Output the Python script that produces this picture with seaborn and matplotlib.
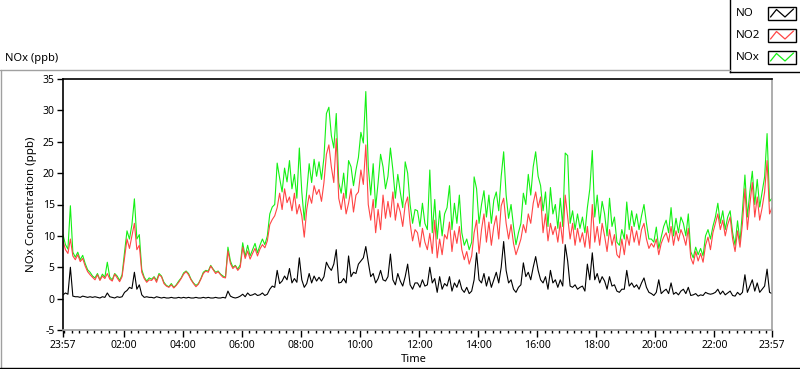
import numpy as np
import pandas as pd
import matplotlib
matplotlib.use("Agg")
import matplotlib.pyplot as plt
import seaborn as sns
from matplotlib.lines import Line2D
from matplotlib.patches import Rectangle

# ---------------- data (5-minute samples starting 23:57) ----------------
start_clock = "23:57"
step_min = 5

no2 = [
    9.2, 7.8, 7.2, 9.5, 6.8, 6.2, 7.0, 5.9, 6.4, 5.2, 4.3, 3.8,
    3.4, 3.0, 3.8, 2.9, 3.6, 3.2, 4.0, 3.1, 2.8, 3.9, 3.3, 2.7,
    3.5, 6.5, 9.5, 8.0, 10.0, 12.0, 7.8, 8.5, 4.2, 3.2, 2.6, 3.0,
    2.9, 3.4, 2.6, 3.8, 3.5, 2.4, 2.0, 1.8, 2.2, 1.7, 2.1, 2.6,
    3.2, 3.9, 4.3, 3.8, 3.0, 2.4, 1.9, 2.3, 3.1, 4.0, 4.4, 4.2,
    5.2, 4.6, 4.0, 4.3, 3.8, 3.4, 3.3, 7.6, 5.6, 4.8, 5.2, 4.5,
    5.0, 8.2, 6.4, 7.6, 6.3, 7.2, 8.0, 6.8, 7.9, 8.6, 8.1, 9.2,
    11.8, 12.6, 13.2, 14.5, 16.8, 14.2, 17.5, 15.3, 16.2, 14.0, 16.8, 13.5,
    15.0, 13.2, 9.8, 14.2, 16.5, 15.2, 18.0, 16.6, 17.4, 15.5, 18.5, 23.0,
    24.5, 21.0, 18.5, 25.5, 16.0, 14.2, 16.8, 13.5, 15.2, 17.5, 13.8, 16.5,
    17.0, 20.5, 18.2, 24.5, 15.0, 12.5, 15.8, 10.5, 14.2, 11.0, 16.5, 12.8,
    15.5, 13.0, 17.0, 12.5, 15.2, 13.8, 11.5, 15.0, 16.2, 12.0, 9.2, 11.0,
    10.5, 8.2, 11.2, 9.0, 7.8, 10.4, 7.2, 12.5, 6.5, 9.5, 7.0, 10.2,
    9.5, 12.2, 7.5, 10.8, 8.8, 11.5, 7.8, 6.2, 7.5, 5.5, 6.8, 10.5,
    12.5, 7.2, 11.0, 13.5, 9.0, 12.2, 8.5, 11.5, 13.2, 9.5, 14.8, 16.0,
    12.0, 9.5, 11.8, 8.8, 7.0, 8.2, 9.5, 11.8, 10.5, 13.5, 12.0, 15.2,
    17.0, 14.5, 16.2, 10.5, 13.5, 9.2, 12.0, 10.2, 11.5, 9.0, 12.2, 8.8,
    16.5, 13.0, 9.5, 12.0, 8.5, 11.2, 9.0, 10.5, 8.2, 11.5, 8.0, 15.0,
    9.0, 11.5, 8.5, 12.0, 10.0, 7.5, 11.0, 8.5, 10.2, 7.0, 6.5, 9.5,
    7.0, 10.2, 8.5, 11.5, 9.0, 10.8, 8.5, 11.0, 12.0, 9.5, 8.0, 8.8,
    8.2, 9.5, 7.0, 8.8, 9.8, 10.5, 9.0, 11.5, 8.5, 10.8, 9.2, 11.0,
    10.0, 8.5, 11.2, 6.5, 5.5, 7.5, 6.0, 7.2, 5.8, 8.5, 9.8, 7.8,
    10.5, 12.0, 13.5, 11.0, 12.5, 10.0, 11.8, 13.0, 9.5, 7.5, 10.8, 8.2,
    12.0, 17.5, 11.0, 15.0, 18.5, 13.0, 16.2, 12.5, 14.5, 17.0, 22.0, 13.5, 14.5,
]

nox = [
    10.2, 8.6, 7.9, 14.8, 7.4, 6.6, 7.4, 6.2, 6.9, 5.6, 4.6, 4.2,
    3.6, 3.3, 4.0, 3.0, 3.9, 3.4, 5.8, 3.4, 3.0, 4.0, 3.6, 2.9,
    3.8, 7.4, 10.8, 9.5, 11.8, 15.9, 9.5, 10.2, 4.6, 3.4, 2.8, 3.3,
    3.1, 3.5, 2.9, 4.0, 3.6, 2.6, 2.1, 1.9, 2.4, 1.8, 2.2, 2.8,
    3.3, 4.1, 4.4, 4.0, 3.1, 2.5, 2.1, 2.4, 3.2, 4.2, 4.5, 4.4,
    5.3, 4.7, 4.2, 4.4, 3.9, 3.6, 3.4, 8.2, 6.0, 5.0, 5.3, 4.7,
    5.4, 8.9, 6.7, 8.5, 6.8, 7.8, 8.8, 7.3, 8.5, 9.5, 8.6, 10.0,
    13.5, 14.6, 15.0, 21.6, 19.2, 17.0, 20.8, 18.6, 22.0, 17.5, 19.8, 16.0,
    24.0, 17.0, 12.5, 17.0, 21.5, 18.5, 22.2, 19.5, 21.8, 19.0, 22.5, 29.5,
    30.5, 26.0, 24.0, 29.5, 18.5, 16.8, 20.0, 16.0, 22.0, 21.0, 18.0, 20.5,
    22.5, 26.5, 24.8, 33.0, 21.0, 16.5, 21.5, 14.5, 18.5, 23.0, 21.0, 17.5,
    19.5, 24.0, 20.5, 16.0, 19.8, 17.0, 14.5, 21.8, 20.0, 15.0, 12.0, 14.2,
    14.0, 11.5, 15.2, 12.0, 11.0, 20.5, 10.5, 15.8, 9.5, 14.0, 10.0, 13.5,
    14.5, 18.0, 11.0, 15.2, 12.0, 16.5, 10.5, 8.5, 9.5, 7.8, 9.0, 19.4,
    17.5, 12.0, 15.0, 17.2, 13.0, 16.5, 12.0, 15.7, 17.0, 14.0, 19.5, 23.4,
    16.5, 12.8, 15.0, 11.5, 8.6, 10.5, 12.0, 16.8, 15.0, 19.8, 16.5, 21.0,
    23.4, 19.5, 18.0, 14.0, 17.0, 11.5, 17.7, 13.5, 15.0, 11.2, 16.0, 11.5,
    23.2, 22.8, 12.0, 14.0, 11.0, 13.5, 11.2, 13.0, 10.5, 14.5, 17.5, 23.6,
    13.0, 16.5, 12.0, 15.5, 13.5, 10.0, 16.0, 11.5, 13.0, 9.0, 8.5, 11.0,
    9.5, 15.4, 11.0, 14.0, 11.5, 13.5, 11.0, 13.2, 15.0, 12.0, 9.5, 9.5,
    9.0, 11.4, 8.0, 9.8, 11.5, 12.5, 10.5, 14.5, 10.0, 12.8, 10.5, 13.0,
    12.0, 10.0, 13.5, 7.5, 6.5, 8.2, 7.0, 8.0, 6.8, 10.0, 11.0, 9.5,
    11.5, 13.0, 15.2, 12.0, 14.0, 11.0, 13.0, 14.0, 10.5, 8.5, 12.4, 9.0,
    14.0, 19.7, 13.0, 17.0, 20.3, 15.0, 19.0, 14.6, 17.0, 19.4, 26.3, 15.5, 16.0,
]

no = [
    0.6, 0.9, 0.7, 5.0, 0.4, 0.3, 0.3, 0.2, 0.4, 0.3, 0.2, 0.3,
    0.2, 0.3, 0.2, 0.1, 0.3, 0.2, 0.9, 0.3, 0.2, 0.1, 0.3, 0.2,
    0.3, 1.0, 1.3, 1.8, 1.6, 4.2, 1.5, 2.2, 0.6, 0.2, 0.3, 0.2,
    0.2, 0.1, 0.3, 0.2, 0.1, 0.2, 0.1, 0.1, 0.2, 0.1, 0.1, 0.2,
    0.1, 0.2, 0.1, 0.2, 0.1, 0.1, 0.2, 0.1, 0.1, 0.2, 0.1, 0.2,
    0.1, 0.1, 0.2, 0.1, 0.1, 0.2, 0.1, 1.2, 0.4, 0.2, 0.1, 0.2,
    0.4, 0.7, 0.3, 0.9, 0.5, 0.6, 0.8, 0.5, 0.6, 0.9, 0.5, 0.7,
    1.5, 2.0, 1.8, 4.5, 2.4, 2.8, 3.6, 3.0, 4.8, 2.5, 3.2, 2.6,
    6.5, 3.0, 1.8, 2.4, 4.0, 2.5, 3.6, 2.8, 3.4, 2.8, 3.5, 5.8,
    5.0, 4.5, 5.5, 7.8, 2.5, 2.6, 3.2, 2.5, 6.8, 3.5, 4.2, 4.0,
    5.5, 6.0, 6.5, 8.3, 5.8, 3.5, 4.0, 2.5, 3.2, 4.5, 3.0, 2.8,
    3.5, 7.1, 3.0, 2.2, 4.0, 2.8, 2.0, 3.5, 5.5, 2.2, 1.5, 2.5,
    2.5, 1.8, 3.0, 2.0, 2.2, 5.0, 2.5, 3.2, 1.0, 3.5, 1.5, 2.4,
    2.0, 3.5, 1.2, 2.5, 1.8, 3.0, 1.5, 1.0, 1.8, 0.8, 1.2, 3.0,
    7.3, 3.0, 2.5, 4.0, 2.0, 3.5, 1.8, 3.0, 4.2, 2.5, 5.0, 9.1,
    4.5, 2.5, 3.0, 1.5, 1.0, 1.8, 2.2, 5.7, 3.5, 4.2, 3.0, 5.0,
    6.7, 4.5, 3.0, 2.5, 3.5, 1.5, 4.5, 2.5, 3.0, 1.8, 3.0, 2.0,
    8.6, 6.0, 2.0, 1.8, 2.2, 1.5, 1.8, 2.0, 1.2, 5.5, 3.0, 7.3,
    3.0, 4.0, 2.5, 3.5, 2.8, 1.5, 3.5, 2.0, 2.2, 1.2, 1.0, 1.5,
    1.5, 4.5, 2.0, 2.5, 1.8, 2.2, 1.5, 2.5, 3.3, 1.8, 1.0, 0.8,
    0.5, 1.0, 3.0, 0.8, 1.2, 1.5, 0.8, 2.5, 0.7, 1.0, 0.6, 1.2,
    1.5, 0.8, 1.8, 0.5, 0.6, 0.8, 0.4, 0.6, 0.5, 1.0, 0.8, 0.7,
    0.8, 1.0, 1.5, 0.7, 1.2, 0.6, 0.9, 1.2, 0.5, 0.4, 1.0, 0.6,
    1.0, 3.8, 1.0, 2.0, 3.0, 1.2, 2.5, 1.0, 1.5, 2.0, 4.7, 1.0, 0.8,
]

series_names = ["NO", "NO2", "NOx"]
series_colors = {"NO": "#000000", "NO2": "#ff4545", "NOx": "#14f014"}
x_tick_labels = ["23:57", "02:00", "04:00", "06:00", "08:00", "10:00", "12:00",
                 "14:00", "16:00", "18:00", "20:00", "22:00", "23:57"]
y_ticks = [-5, 0, 5, 10, 15, 20, 25, 30, 35]

# ---------------- build table ----------------
minutes = np.arange(len(no2)) * step_min
df = pd.concat([
    pd.DataFrame({"t": minutes, "value": no, "series": "NO"}),
    pd.DataFrame({"t": minutes, "value": no2, "series": "NO2"}),
    pd.DataFrame({"t": minutes, "value": nox, "series": "NOx"}),
], ignore_index=True)

def clock_to_min(s):
    h, m = s.split(":")
    return int(h) * 60 + int(m)

t0 = clock_to_min(start_clock)
span = 24 * 60
major_pos = [(clock_to_min(s) - t0) % span for s in x_tick_labels]
major_pos[-1] = span
minor_pos = [(q - t0) % span for q in range(0, span, 15)]
minor_pos = [p for p in minor_pos if p not in major_pos]

# ---------------- figure ----------------
sns.set_theme(style="white")
plt.rcParams["font.family"] = ["Noto Sans", "DejaVu Sans"]

W, H = 800, 369
fig = plt.figure(figsize=(W / 100, H / 100), dpi=100)
fig.patch.set_facecolor("white")

def fx(px):
    return px / W

def fy(py):
    return 1 - py / H

L, R, T, B = 63, 772, 79, 330
ax = fig.add_axes([fx(L), fy(B), fx(R - L), (B - T) / H])
ax.set_facecolor("white")

sns.lineplot(data=df, x="t", y="value", hue="series",
             hue_order=["NOx", "NO2", "NO"], palette=series_colors,
             legend=False, ax=ax, linewidth=0.8,
             estimator=None, sort=False)

ax.set_xlim(0, span)
ax.set_ylim(-5, 35)
ax.set_xticks(major_pos)
ax.set_xticklabels(x_tick_labels)
ax.set_xticks(minor_pos, minor=True)
ax.set_yticks(y_ticks)
ax.set_yticklabels([str(v) for v in y_ticks])

ax.tick_params(axis="x", which="major", direction="out", length=5, width=1,
               color="black", pad=2, labelsize=7.5, labelcolor="black",
               bottom=True)
ax.tick_params(axis="x", which="minor", direction="out", length=2.5, width=1,
               color="black", bottom=True)
ax.tick_params(axis="y", which="major", direction="out", length=4, width=1,
               color="black", pad=2, labelsize=7.5, labelcolor="black",
               left=True)
ax.grid(False)

for side in ["top", "left"]:
    ax.spines[side].set_color("black")
    ax.spines[side].set_linewidth(1.2)
for side in ["right", "bottom"]:
    ax.spines[side].set_color("#a0a0a0")
    ax.spines[side].set_linewidth(1.2)

ax.set_xlabel("Time", fontsize=8, color="black")
ax.xaxis.set_label_coords((413.5 - L) / (R - L), -(354 - B) / (B - T))
ax.xaxis.label.set_va("top")
ax.set_ylabel("NOx Concentration (ppb)", fontsize=8.3, color="black")
ax.yaxis.set_label_coords(-(L - 37) / (R - L), 0.5)

# plot title at top-left
fig.text(fx(5), fy(58), "NOx (ppb)", fontsize=8, color="black",
         ha="left", va="center")

# outer panel frame
fig.add_artist(Line2D([fx(0), fx(730)], [fy(69.5), fy(69.5)],
                      color="#a0a0a0", lw=1))
fig.add_artist(Line2D([fx(0.5), fx(0.5)], [fy(69.5), fy(368)],
                      color="#a0a0a0", lw=1))
fig.add_artist(Line2D([fx(0), fx(800)], [fy(367.5), fy(367.5)],
                      color="black", lw=1))

# ---------------- legend box ----------------
lg = fig.add_axes([fx(730), fy(72), fx(70), 72 / H])
lg.set_xlim(0, 70)
lg.set_ylim(72, 0)
lg.set_xticks([])
lg.set_yticks([])
lg.set_facecolor("white")
for side in ["top", "right"]:
    lg.spines[side].set_visible(False)
for side in ["left", "bottom"]:
    lg.spines[side].set_color("black")
    lg.spines[side].set_linewidth(1)

rows_y = [13, 35, 57]
for name, yc in zip(series_names, rows_y):
    lg.text(6, yc, name, fontsize=8.3, color="black", ha="left", va="center")
    box = Rectangle((38, yc - 6.5), 28, 13, facecolor="white",
                    edgecolor="black", lw=1)
    lg.add_patch(box)
    zx = [40.5, 46.5, 55, 63.5]
    zy = [yc + 4, yc - 3.5, yc + 4, yc - 4]
    lg.plot(zx, zy, color=series_colors[name], lw=0.9)

fig.savefig("out.png", dpi=100, facecolor="white")
